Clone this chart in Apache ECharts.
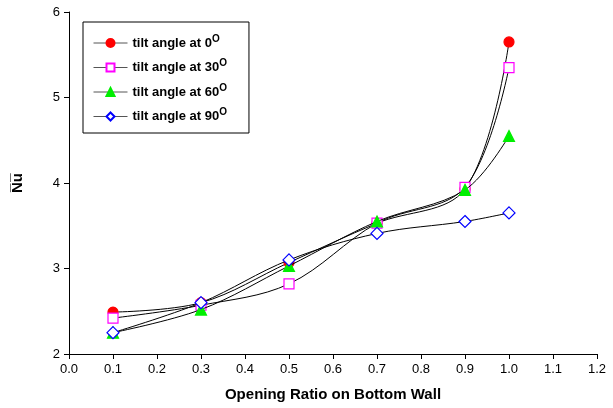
<!DOCTYPE html>
<html>
<head>
<meta charset="utf-8">
<script src="https://cdn.jsdelivr.net/npm/echarts@6/dist/echarts.min.js"></script>
<style>
  html, body { margin: 0; padding: 0; background: #fff; }
  #chart { width: 613px; height: 408px; }
</style>
</head>
<body>
<div id="chart"></div>
<script>
// opening ratio values on x
var ratios = [0.1, 0.3, 0.5, 0.7, 0.9, 1.0];
// Nu per tilt angle
var nu0 = [2.49, 2.60, 3.07, 3.53, 3.93, 5.65];
var nu30 = [2.42, 2.57, 2.82, 3.53, 3.95, 5.35];
var nu60 = [2.25, 2.52, 3.03, 3.55, 3.92, 4.55];
var nu90 = [2.25, 2.60, 3.10, 3.41, 3.55, 3.65];
var angles = ['0', '30', '60', '90'];

function pairs(ys) {
  return ratios.map(function (x, i) { return [x, ys[i]]; });
}

var markers = [
  { symbol: 'circle', size: 10, color: '#ff0000', fill: '#ff0000' },
  { symbol: 'rect', size: 10, color: '#ff00ff', fill: '#fff' },
  { symbol: 'triangle', size: 11, color: '#00ee00', fill: '#00ee00' },
  { symbol: 'diamond', size: 12, color: '#0000ff', fill: '#fff' }
];
var allData = [nu0, nu30, nu60, nu90];

var series = allData.map(function (d, i) {
  var m = markers[i];
  return {
    name: 'tilt angle at ' + angles[i],
    type: 'line',
    smooth: 0.35,
    data: pairs(d),
    symbol: m.symbol,
    symbolSize: m.size,
    showAllSymbol: true,
    lineStyle: { color: '#000', width: 1 },
    itemStyle: { color: m.fill, borderColor: m.color, borderWidth: 1.2 },
    z: 2 + i
  };
});

var myChart = echarts.init(document.getElementById('chart'));
myChart.setOption({
  animation: false,
  textStyle: { fontFamily: 'Liberation Sans, Arial, sans-serif' },
  grid: { left: 69, right: 16, top: 12, bottom: 54 },
  legend: {
    orient: 'vertical',
    left: 83,
    top: 22,
    padding: [12, 22, 10, 10],
    borderColor: '#000',
    borderWidth: 1,
    itemWidth: 34,
    itemHeight: 10,
    itemGap: 9,
    lineStyle: { color: '#555', width: 1 },
    formatter: function (name) {
      return '{t|' + name + '}{s|O}';
    },
    textStyle: {
      padding: [0, 0, 0, 0],
      rich: {
        t: { fontSize: 13, fontWeight: 'bold', color: '#000', fontFamily: 'Liberation Sans' },
        s: { fontSize: 10, fontWeight: 'bold', color: '#000', verticalAlign: 'top', padding: [0, 0, 8, 0], fontFamily: 'Liberation Sans' }
      }
    },
    data: series.map(function (s) { return s.name; })
  },
  xAxis: {
    type: 'value',
    min: 0,
    max: 1.2,
    interval: 0.1,
    name: 'Opening Ratio on Bottom Wall',
    nameLocation: 'middle',
    nameGap: 33,
    nameTextStyle: { fontSize: 15, fontWeight: 'bold', color: '#000' },
    axisLine: { lineStyle: { color: '#000' } },
    axisTick: { lineStyle: { color: '#000' }, length: 5 },
    axisLabel: { color: '#000', fontSize: 13, margin: 9, formatter: function (v) { return v.toFixed(1); } },
    splitLine: { show: false }
  },
  yAxis: {
    type: 'value',
    min: 2,
    max: 6,
    interval: 1,
    name: 'N\u0305u\u0305',
    nameLocation: 'middle',
    nameGap: 44,
    nameTextStyle: { fontSize: 15, fontWeight: 'bold', color: '#000' },
    axisLine: { show: true, lineStyle: { color: '#000' } },
    axisTick: { show: true, lineStyle: { color: '#000' }, length: 5 },
    axisLabel: { color: '#000', fontSize: 13, margin: 9 },
    splitLine: { show: false }
  },
  series: series
});
</script>
</body>
</html>
